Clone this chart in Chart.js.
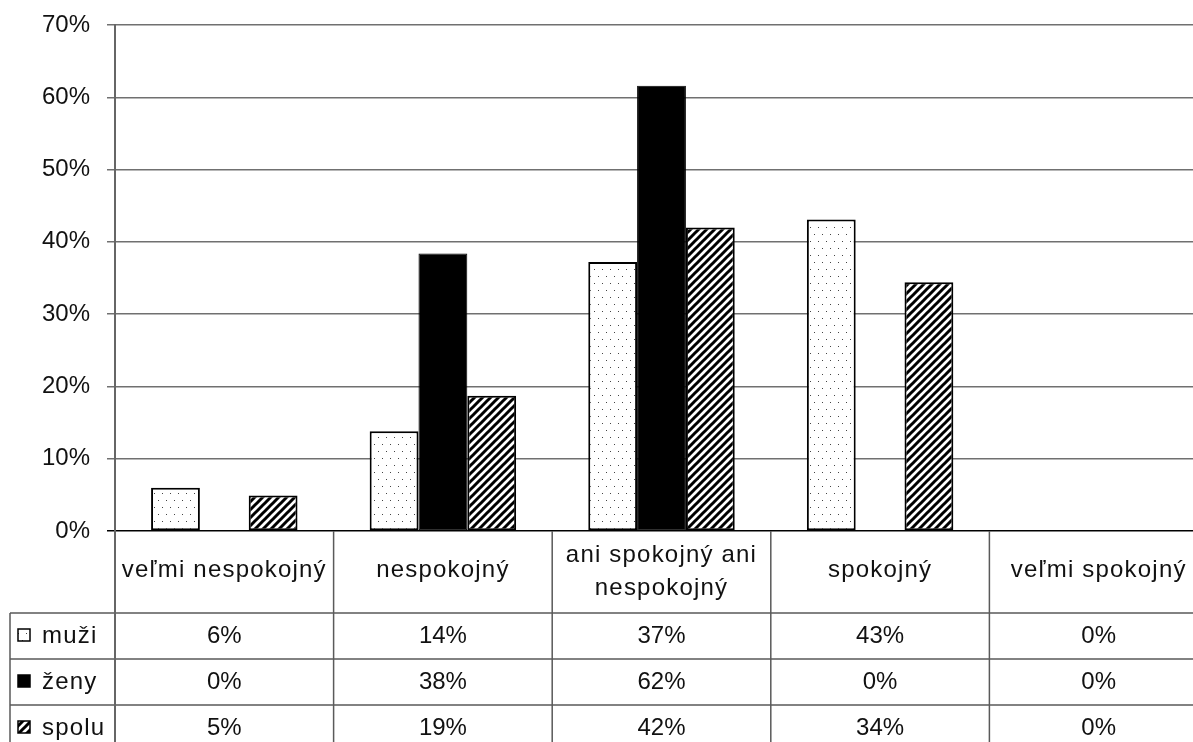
<!DOCTYPE html>
<html>
<head>
<meta charset="utf-8">
<script src="https://cdn.jsdelivr.net/npm/chart.js@4"></script>
<style>
  html, body { margin: 0; padding: 0; overflow: hidden; background: #fff; }
  #wrap { position: relative; width: 1212px; height: 760px; }
</style>
</head>
<body>
<div id="wrap"><canvas id="c"></canvas></div>
<script>
// Categories (a nested array means a label split over two lines)
const categories = ['veľmi nespokojný', 'nespokojný', ['ani spokojný ani', 'nespokojný'], 'spokojný', 'veľmi spokojný'];
const seriesNames = ['muži', 'ženy', 'spolu'];

// Shares in percent
const muzi  = [6.0, 13.8, 37.2, 43.1, 0];
const zeny  = [0, 38.4, 61.6, 0, 0];
const spolu = [4.9, 18.7, 42.0, 34.4, 0];

// Value axis
const yMin = 0, yMax = 70, yStep = 10;

const FONT = '"Liberation Sans", Arial, sans-serif';
const TEXT = '#111';

const canvas = document.getElementById('c');
const ctx0 = canvas.getContext('2d');

// Sparse dotted fill
function makeDots() {
  const c = document.createElement('canvas');
  c.width = 8; c.height = 14;
  const g = c.getContext('2d');
  g.fillStyle = '#fff'; g.fillRect(0, 0, 8, 14);
  g.fillStyle = '#444';
  g.fillRect(2, 3, 1, 1);
  g.fillRect(6, 10, 1, 1);
  return ctx0.createPattern(c, 'repeat');
}

// Dense diagonal hatch ("/")
function makeHatch() {
  const c = document.createElement('canvas');
  c.width = 8; c.height = 8;
  const g = c.getContext('2d');
  g.fillStyle = '#fff'; g.fillRect(0, 0, 8, 8);
  g.strokeStyle = '#000'; g.lineWidth = 3;
  g.beginPath();
  g.moveTo(-1, 9); g.lineTo(9, -1);
  g.moveTo(-5, 5); g.lineTo(5, -5);
  g.moveTo(3, 13); g.lineTo(13, 3);
  g.stroke();
  return ctx0.createPattern(c, 'repeat');
}

const dots = makeDots();
const hatch = makeHatch();
const fills = [dots, '#000', hatch];
const series = [muzi, zeny, spolu];

// Data table drawn under the plot, aligned with the category scale
const tablePlugin = {
  id: 'dataTable',
  afterDraw(chart) {
    const { ctx, chartArea: a, scales: { x } } = chart;
    const n = categories.length;
    const centers = categories.map((_, i) => x.getPixelForValue(i));
    const edges = [a.left];
    for (let i = 1; i < n; i++) edges.push((centers[i - 1] + centers[i]) / 2);
    edges.push(a.right);

    const headTop = a.bottom;
    const headBottom = a.bottom + 82;
    const rowH = 46;
    const rowTops = [0, 1, 2, 3].map(r => headBottom + r * rowH);
    const bottom = rowTops[3];
    const tableLeft = 10;

    ctx.save();
    // grid of the table
    ctx.strokeStyle = '#5a5a5a';
    ctx.lineWidth = 1.5;
    ctx.beginPath();
    for (let i = 1; i < edges.length; i++) {
      ctx.moveTo(edges[i], headTop); ctx.lineTo(edges[i], bottom);
    }
    ctx.moveTo(tableLeft, headBottom); ctx.lineTo(tableLeft, bottom);
    rowTops.forEach(t => { ctx.moveTo(tableLeft, t); ctx.lineTo(a.right, t); });
    ctx.stroke();

    // value axis line continues down through the table
    ctx.strokeStyle = '#666';
    ctx.lineWidth = 2;
    ctx.beginPath();
    ctx.moveTo(a.left, headTop); ctx.lineTo(a.left, bottom);
    ctx.stroke();

    ctx.fillStyle = TEXT;
    ctx.font = '24px ' + FONT;
    ctx.textBaseline = 'alphabetic';

    // category headers
    ctx.textAlign = 'center';
    ctx.letterSpacing = '1.2px';
    categories.forEach((lab, i) => {
      if (Array.isArray(lab)) {
        ctx.fillText(lab[0], centers[i], headTop + 31);
        ctx.fillText(lab[1], centers[i], headTop + 64);
      } else {
        ctx.fillText(lab, centers[i], headTop + 46);
      }
    });

    // series rows
    series.forEach((vals, r) => {
      const base = rowTops[r] + 30;
      // legend key
      const kx = 18, ky = base - 14, ks = 12;
      ctx.fillStyle = fills[r];
      ctx.fillRect(kx, ky, ks, ks);
      ctx.strokeStyle = '#000';
      ctx.lineWidth = 1.5;
      ctx.strokeRect(kx, ky, ks, ks);
      // name
      ctx.fillStyle = TEXT;
      ctx.textAlign = 'left';
      ctx.letterSpacing = '1.2px';
      ctx.fillText(seriesNames[r], 42, base);
      // values
      ctx.textAlign = 'center';
      ctx.letterSpacing = '0px';
      vals.forEach((v, i) => ctx.fillText(Math.round(v) + '%', centers[i], base));
    });
    ctx.restore();
  }
};

const barCommon = {
  borderColor: '#000',
  borderSkipped: false,
  categoryPercentage: 0.67,
  barPercentage: 1.0
};

new Chart(canvas, {
  type: 'bar',
  data: {
    labels: categories.map(c => Array.isArray(c) ? c.join(' ') : c),
    datasets: seriesNames.map((name, r) => Object.assign({}, barCommon, {
      label: name,
      data: series[r],
      backgroundColor: fills[r],
      borderWidth: r === 1 ? 1 : 2
    }))
  },
  options: {
    responsive: true,
    maintainAspectRatio: false,
    animation: false,
    events: [],
    layout: { padding: { top: 25, bottom: 229, left: 0, right: 4 } },
    plugins: { legend: { display: false }, tooltip: { enabled: false } },
    scales: {
      x: { display: false, offset: true },
      y: {
        min: yMin,
        max: yMax,
        afterFit(s) { s.width = 115; s.paddingTop = 0; s.paddingBottom = 0; },
        ticks: {
          stepSize: yStep,
          padding: 17,
          color: TEXT,
          font: { family: FONT, size: 24 },
          callback: v => v + '%'
        },
        grid: {
          color: c => (c.tick && c.tick.value === 0) ? '#000' : '#707070',
          lineWidth: 1.5,
          tickLength: 8,
          drawTicks: true
        },
        border: { display: true, color: '#666', width: 2 }
      }
    }
  },
  plugins: [tablePlugin]
});
</script>
</body>
</html>
